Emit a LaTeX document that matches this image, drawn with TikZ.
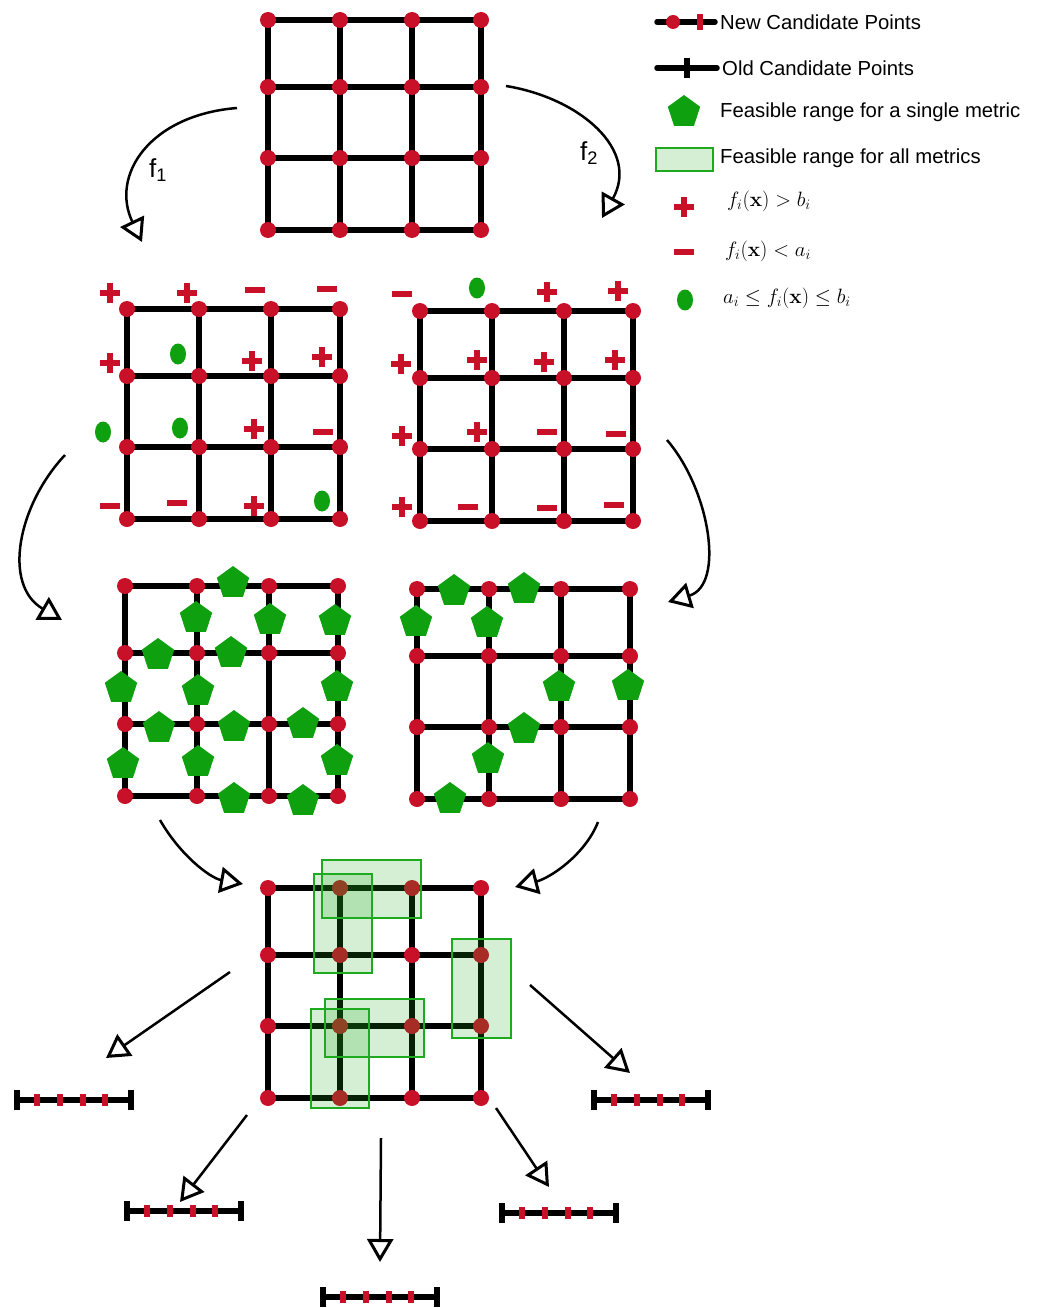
\documentclass[tikz,border=0pt]{standalone}
\usepackage{amsmath}
\usepackage{amssymb}
\usepackage[no-math]{fontspec}
\setmainfont{Liberation Sans}
\usepackage{tikz}
\usetikzlibrary{arrows.meta}
\usetikzlibrary{shapes.geometric}

\definecolor{candred}{RGB}{200,16,40}
\definecolor{fgreen}{RGB}{15,160,15}
\definecolor{rgreen}{RGB}{30,170,30}

\newcommand{\cgrid}[3]{%
  \foreach \c [count=\i from 0] in {0,72,144,213}
    \foreach \r [count=\j from 0] in {0,67,138,210}
      \coordinate (#1-\i-\j) at (#2+\c,#3+\r);
  \foreach \k in {0,...,3} {
    \draw[gridline] (#1-\k-0) -- (#1-\k-3);
    \draw[gridline] (#1-0-\k) -- (#1-3-\k);
  }
  \foreach \i in {0,...,3}
    \foreach \j in {0,...,3}
      \node[cand] (#1-d\i\j) at (#1-\i-\j) {};
}

\newcommand{\numline}[3]{%
  \coordinate (#1-l) at (#2,#3);
  \coordinate (#1-r) at (#2+114,#3);
  \draw[gridline] (#1-l) -- (#1-r);
  \draw[gridline] (#2,#3-10) -- (#2,#3+10);
  \draw[gridline] (#2+114,#3-10) -- (#2+114,#3+10);
  \foreach \t in {20,43,66,88}
    \fill[candred] (#2+\t-3,#3-6) rectangle (#2+\t+3,#3+6);
}

\begin{document}
\begin{tikzpicture}[x=1pt, y=-1pt,
    gridline/.style={line width=5.5pt},
    cand/.style={circle, fill=candred, inner sep=0pt, minimum size=16pt},
    single/.style={regular polygon, regular polygon sides=5, fill=fgreen, inner sep=0pt, minimum size=34pt},
    allrange/.style={draw=rgreen, line width=1.5pt, fill=rgreen, fill opacity=0.19},
    flow/.style={line width=2.5pt, -{Triangle[open, length=23pt, width=26pt, line width=3pt]}},
    legtext/.style={anchor=west, inner sep=0pt, font=\fontsize{20.3}{24}\selectfont},
    legmath/.style={anchor=west, inner sep=0pt, font=\fontsize{21}{24}\selectfont},
    flab/.style={inner sep=0pt, font=\fontsize{26}{28}\selectfont},
    plussign/.pic={\fill[candred] (-10,-3) rectangle (10,3); \fill[candred] (-3,-10) rectangle (3,10);},
    minussign/.pic={\fill[candred] (-10,-3) rectangle (10,3);}
  ]
  \useasboundingbox (0,0) rectangle (1036,1308);

  \cgrid{g0}{268}{20}
  \cgrid{ga}{127}{309}
  \cgrid{gb}{420}{311}
  \cgrid{gc}{125}{586}
  \cgrid{gd}{417}{589}
  \cgrid{ge}{268}{888}

  % signs around the first split
  \foreach \x/\y in {110/293, 187/293, 110/363, 252/361, 322/357, 254/429, 254/506,
                  547/292, 618/291, 401/364, 477/360, 544/362, 615/360, 402/436, 477/432, 402/507}
    \pic at (\x,\y) {plussign};
  \foreach \x/\y in {255/290, 327/289, 323/432, 110/506, 177/503,
                  402/294, 547/432, 616/434, 468/507, 547/508, 614/505}
    \pic at (\x,\y) {minussign};
  \foreach \x/\y in {178/354, 103/432, 180/428, 322/501, 477/288}
    \fill[fgreen] (\x,\y) ellipse [x radius=8pt, y radius=10.5pt];

  \foreach \x/\y [count=\k] in {233/583, 196/618, 270/620, 335/621, 158/655, 231/653, 121/688, 198/691, 337/687,
                  159/728, 234/727, 303/724, 123/764, 198/762, 337/761, 234/799, 303/801}
    \node[single] (pc\k) at (\x,\y) {};
  \foreach \x/\y [count=\k] in {454/591, 524/589, 416/622, 487/623, 559/687, 628/686, 524/729, 488/759, 450/799}
    \node[single] (pd\k) at (\x,\y) {};

  \draw[allrange] (322,860) rectangle (421,918);
  \draw[allrange] (314,874) rectangle (372,973);
  \draw[allrange] (452,939) rectangle (511,1038);
  \draw[allrange] (325,999) rectangle (424,1057);
  \draw[allrange] (311,1009) rectangle (369,1108);

  \numline{s1}{17}{1100}
  \numline{s2}{127}{1211}
  \numline{s3}{323}{1297}
  \numline{s4}{502}{1213}
  \numline{s5}{594}{1100}

  % arrows
  \coordinate (f1s) at (237,108); \coordinate (f1e) at (142,242);
  \coordinate (f2s) at (506,86);  \coordinate (f2e) at (602,218);
  \draw[flow] (f1s) .. controls (150,115) and (110,175) .. (f1e);
  \draw[flow] (f2s) .. controls (580,98) and (640,150) .. (f2e);
  \node[flab] (lf1) at (158,170) {f\textsubscript{1}};
  \node[flab] (lf2) at (589,153) {f\textsubscript{2}};

  \coordinate (a3s) at (65,455);  \coordinate (a3e) at (62,620);
  \coordinate (a4s) at (667,440); \coordinate (a4e) at (668,602);
  \coordinate (a5s) at (160,820); \coordinate (a5e) at (243,884);
  \coordinate (a6s) at (598,822); \coordinate (a6e) at (515,887);
  \draw[flow] (a3s) .. controls (18,505) and (2,585) .. (a3e);
  \draw[flow] (a4s) .. controls (710,490) and (725,585) .. (a4e);
  \draw[flow] (a5s) .. controls (180,855) and (210,878) .. (a5e);
  \draw[flow] (a6s) .. controls (585,855) and (550,878) .. (a6e);

  \coordinate (a7s) at (230,972);   \coordinate (a7e) at (106,1058);
  \coordinate (a8s) at (530,985);   \coordinate (a8e) at (630,1073);
  \coordinate (a9s) at (247,1115);  \coordinate (a9e) at (180,1202);
  \coordinate (a10s) at (381,1138); \coordinate (a10e) at (380,1262);
  \coordinate (a11s) at (496,1108); \coordinate (a11e) at (549,1187);
  \foreach \a in {a7,a8,a9,a10,a11}
    \draw[flow] (\a s) -- (\a e);

  % legend
  \draw[gridline, line cap=round] (657,22) -- (715,22);
  \node[cand, minimum size=14pt] (lnewdot) at (673,22) {};
  \fill[candred] (697,14) rectangle (703,30);
  \node[legtext] (lnew) at (720,22) {New Candidate Points};
  \draw[gridline, line cap=round] (657,68) -- (717,68);
  \fill[black] (684,58) rectangle (690,78);
  \node[legtext] (lold) at (722,68) {Old Candidate Points};
  \node[single] (lsingle) at (684,112) {};
  \node[legtext] (lsin) at (720,112) {Feasible range for a single metric};
  \draw[allrange] (656,148) rectangle (713,171);
  \node[legtext] (lall) at (720,158) {Feasible range for all metrics};
  \pic at (684,207) {plussign};
  \node[legmath] (lgt) at (727,201) {$f_i(\mathbf{x}) > b_i$};
  \pic at (684,252) {minussign};
  \node[legmath] (llt) at (725,251) {$f_i(\mathbf{x}) < a_i$};
  \fill[fgreen] (685,300) ellipse [x radius=8pt, y radius=10.5pt];
  \node[legmath] (lin) at (723,298) {$a_i \leq f_i(\mathbf{x}) \leq b_i$};
\end{tikzpicture}
\end{document}
